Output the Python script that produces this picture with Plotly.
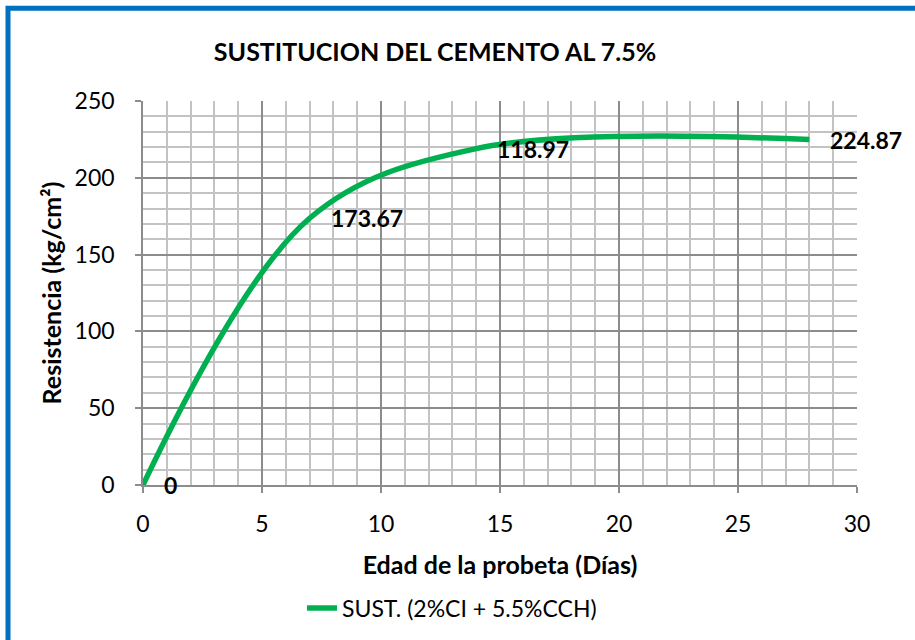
import plotly.graph_objects as go

# Compressive strength vs. specimen age
dias = [0, 7, 14, 28]
resistencia = [0, 173.67, 218.97, 224.87]
# data labels as printed on the chart (the day-14 label reads 118.97)
etiquetas = ["0", "173.67", "118.97", "224.87"]

serie = "SUST. (2%CI + 5.5%CCH)"
titulo = "SUSTITUCION DEL CEMENTO AL 7.5%"
titulo_x = "Edad de la probeta (Días)"
titulo_y = "Resistencia (kg/cm²)"

FONT = "Lato"
VERDE = "#00B050"
GRID_MAJOR = "#8c8c8c"
GRID_MINOR = "#c3c3c3"

fig = go.Figure()
fig.add_trace(go.Scatter(
    x=dias, y=resistencia, name=serie, mode="lines",
    line=dict(color=VERDE, width=5.5, shape="spline", smoothing=1),
))

for xv, yv, t in zip(dias, resistencia, etiquetas):
    fig.add_annotation(
        x=xv, y=yv, text=f"<b>{t}</b>", showarrow=False,
        xanchor="left", yanchor="middle", xshift=19,
        font=dict(family=FONT, size=23, color="black"),
    )

axis_common = dict(
    showline=True, linecolor=GRID_MAJOR, linewidth=1.5,
    ticks="outside", ticklen=6, tickcolor=GRID_MAJOR, tickwidth=1.5,
    showgrid=True, gridcolor=GRID_MAJOR, gridwidth=1.5,
    zeroline=False, mirror=False,
    tickfont=dict(family=FONT, size=23, color="black"),
)

fig.update_xaxes(
    range=[0, 30], dtick=5, tick0=0, ticklabelstandoff=12,
    minor=dict(dtick=1, showgrid=True, gridcolor=GRID_MINOR, gridwidth=1.5),
    title=dict(text=f"<b>{titulo_x}</b>", standoff=20,
               font=dict(family=FONT, size=25, color="black")),
    **axis_common,
)
fig.update_yaxes(
    range=[0, 250], dtick=50, tick0=0, ticklabelstandoff=16,
    minor=dict(dtick=10, showgrid=True, gridcolor=GRID_MINOR, gridwidth=1.5),
    title=dict(text=f"<b>{titulo_y}</b>", standoff=6,
               font=dict(family=FONT, size=25, color="black")),
    **axis_common,
)

# outer chart border
fig.add_shape(
    type="rect", xref="paper", yref="paper",
    x0=(8 - 143) / 714, x1=(930 - 143) / 714,
    y0=(486 - 660) / 385, y1=(486 - 8) / 385,
    line=dict(color="#0070C0", width=5), fillcolor="rgba(0,0,0,0)", layer="above",
)

fig.update_layout(
    width=915, height=640, autosize=False,
    margin=dict(l=143, r=58, t=101, b=154),
    paper_bgcolor="white", plot_bgcolor="white",
    title=dict(text=f"<b>{titulo}</b>", x=435 / 915, xanchor="center",
               y=1 - 52 / 640, yanchor="middle",
               font=dict(family=FONT, size=25, color="black")),
    showlegend=True,
    legend=dict(orientation="h", x=(452 - 143) / 714, xanchor="center",
                y=(486 - 608) / 385, yanchor="middle",
                font=dict(family=FONT, size=23, color="black"),
                bgcolor="rgba(0,0,0,0)"),
)

fig.write_html("out.html")
